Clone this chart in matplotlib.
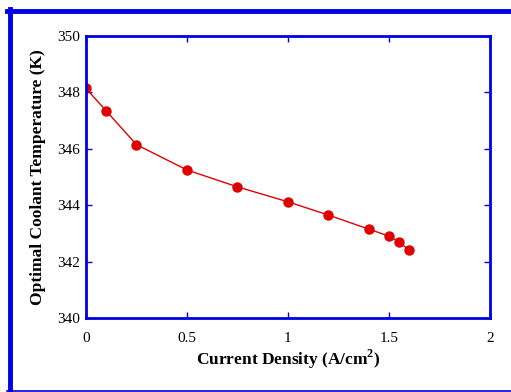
import numpy as np
import matplotlib
matplotlib.use("Agg")
import matplotlib.pyplot as plt
from matplotlib.lines import Line2D

# ============================================================
# DATA
# ============================================================

current_density = [0.0, 0.1, 0.25, 0.5, 0.75, 1.0, 1.2, 1.4, 1.5, 1.55, 1.6]
coolant_temp = [348.15, 347.35, 346.15, 345.25, 344.65, 344.12, 343.65,
                343.15, 342.9, 342.7, 342.4]

X_TICKS = [0, 0.5, 1, 1.5, 2]
X_TICK_LABELS = ["0", "0.5", "1", "1.5", "2"]
Y_TICKS = [340, 342, 344, 346, 348, 350]

BLUE = "#0000e6"
RED = "#e00000"

plt.rcParams["font.family"] = ["Liberation Serif", "DejaVu Serif"]
plt.rcParams["mathtext.fontset"] = "custom"
plt.rcParams["mathtext.rm"] = "Liberation Serif"
plt.rcParams["mathtext.bf"] = "Liberation Serif:bold"

# ============================================================
# PLOT
# ============================================================

fig = plt.figure(figsize=(5.11, 3.92), dpi=100)
ax = fig.add_axes([0.168, 0.189, 0.791, 0.719])

ax.plot(current_density, coolant_temp, "-", color=RED, linewidth=1,
        marker="o", markersize=6.5, markerfacecolor=RED, markeredgecolor=RED)

ax.set_xlim(0, 2)
ax.set_ylim(340, 350)
ax.set_xticks(X_TICKS)
ax.set_xticklabels(X_TICK_LABELS)
ax.set_yticks(Y_TICKS)

for s in ax.spines.values():
    s.set_color(BLUE)
    s.set_linewidth(2)

ax.tick_params(direction="in", length=4, width=1, color=BLUE,
               top=True, right=True, labelsize=11, pad=4)
ax.tick_params(axis="x", pad=10)

ax.set_xlabel(r"Current Density (A/cm$^{\mathbf{2}}$)", fontsize=12.5,
              fontweight="bold", labelpad=2)
ax.set_ylabel("Optimal Coolant Temperature (K)", fontsize=12.5,
              fontweight="bold", labelpad=8)

# outer blue frame
fig.add_artist(Line2D([7 / 511, 1.0], [1 - 10.5 / 392] * 2,
                      transform=fig.transFigure, color=BLUE, linewidth=3.5))
fig.add_artist(Line2D([9.5 / 511] * 2, [1 - 8.7 / 392, 1 - 390 / 392],
                      transform=fig.transFigure, color=BLUE, linewidth=3.5))
fig.add_artist(Line2D([7 / 511, 1.0], [1 - 390.5 / 392] * 2,
                      transform=fig.transFigure, color=BLUE, linewidth=1.2))

fig.savefig("out.png", dpi=100)
